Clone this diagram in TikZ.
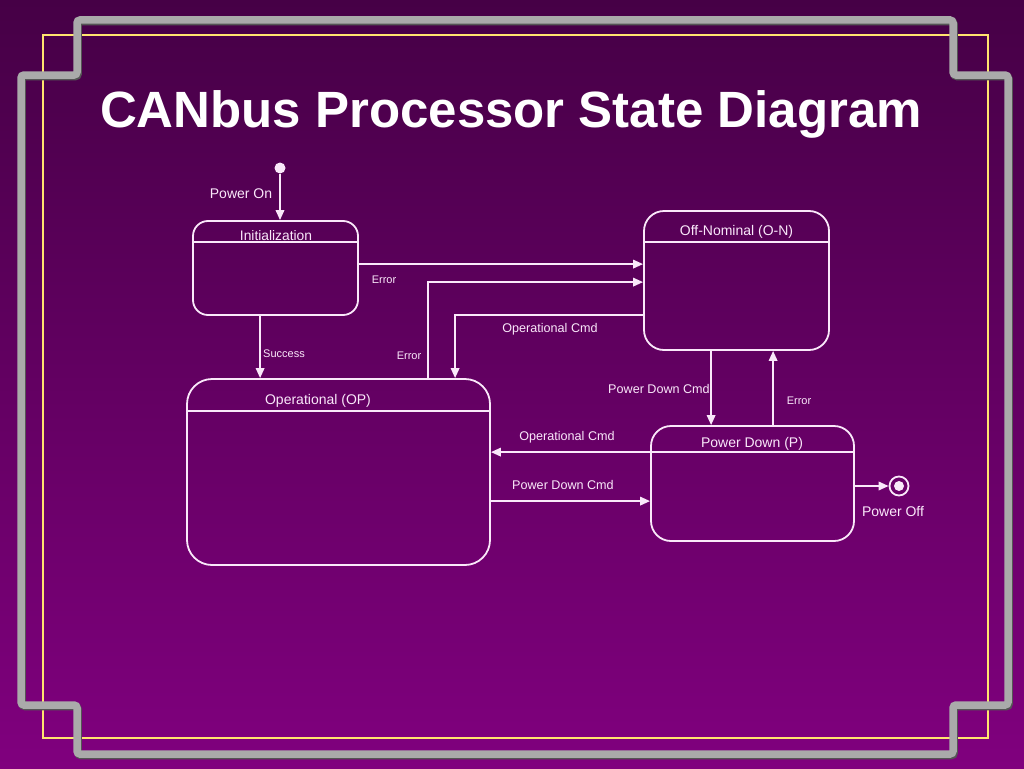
\documentclass[tikz,border=0pt]{standalone}
\usepackage{fontspec}
\setmainfont{Liberation Sans}
\usetikzlibrary{arrows.meta,calc}
\definecolor{bgtop}{RGB}{70,0,70}
\definecolor{bgbot}{RGB}{128,0,126}
\definecolor{ink}{RGB}{250,232,250}
\definecolor{framegray}{RGB}{170,170,170}
\definecolor{frameshadow}{RGB}{85,85,85}
\definecolor{gold}{RGB}{255,228,110}
\begin{document}
\begin{tikzpicture}[x=1pt,y=-1pt,
  statebox/.style={draw=ink, line width=1.8pt, rounded corners=#1, inner sep=0pt},
  conn/.style={draw=ink, line width=1.8pt},
  arr/.style={conn, -{Triangle[length=10pt,width=8.5pt]}},
  lbl/.style={text=ink, inner sep=0pt, anchor=base},
  big/.style={lbl, font=\fontsize{14}{16}\selectfont},
  mid/.style={lbl, font=\fontsize{12.6}{15}\selectfont},
  small/.style={lbl, font=\fontsize{11}{13}\selectfont}]
% background
\shade[top color=bgtop, bottom color=bgbot] (0,0) rectangle (1024,768);
\useasboundingbox (0,0) rectangle (1024,768);
% frame
\draw[gold, line width=2.6pt] (43,35) rectangle (988,738);
\draw[frameshadow, line width=7.5pt, rounded corners=3pt, shift={(1.2,1.6)}]
  (77,20) -- (953,20) -- (953,75) -- (1008,75) -- (1008,705) -- (953,705) -- (953,754)
  -- (77,754) -- (77,705) -- (21,705) -- (21,75) -- (77,75) -- cycle;
\draw[framegray, line width=7.5pt, rounded corners=3pt]
  (77,20) -- (953,20) -- (953,75) -- (1008,75) -- (1008,705) -- (953,705) -- (953,754)
  -- (77,754) -- (77,705) -- (21,705) -- (21,75) -- (77,75) -- cycle;
% title
\node[anchor=base, inner sep=0pt, text=white, font=\bfseries\fontsize{51}{60}\selectfont] (title) at (511,127) {CANbus Processor State Diagram};
% states
\node[statebox=15pt, minimum width=165pt, minimum height=94pt] (init) at (275.5,268) {};
\node[statebox=20pt, minimum width=185pt, minimum height=139pt] (on) at (736.5,280.5) {};
\node[statebox=25pt, minimum width=303pt, minimum height=186pt] (op) at (338.5,472) {};
\node[statebox=20pt, minimum width=203pt, minimum height=115pt] (pd) at (752.5,483.5) {};
% dividers
\draw[conn] ($(init.north west)+(0,22)$) -- ($(init.north east)+(0,22)$);
\draw[conn] ($(on.north west)+(0,32)$) -- ($(on.north east)+(0,32)$);
\draw[conn] ($(op.north west)+(0,33)$) -- ($(op.north east)+(0,33)$);
\draw[conn] ($(pd.north west)+(0,27)$) -- ($(pd.north east)+(0,27)$);
% state titles
\node[lbl, font=\fontsize{13.8}{16}\selectfont] (initt) at (276,240) {Initialization};
\node[big] (ont) at (736.5,235) {Off-Nominal (O-N)};
\node[big] (opt) at (318,404) {Operational (OP)};
\node[big] (pdt) at (752,447) {Power Down (P)};
% pseudo states
\node[circle, fill=ink, minimum size=11pt, inner sep=0pt] (start) at (280,168) {};
\node[circle, draw=ink, line width=1.8pt, minimum size=19pt, inner sep=0pt] (end) at (899,486) {};
\node[circle, fill=ink, minimum size=10pt, inner sep=0pt] (endin) at (899,486) {};
% connectors
\draw[arr] (start) -- (start |- init.north);
\draw[arr] ($(init.north east)+(0,44)$) -- ($(on.north west)+(0,54)$);
\draw[arr] ($(op.north west)+(242,0)$) |- ($(on.north west)+(0,72)$);
\draw[arr] ($(on.north west)+(0,105)$) -| ($(op.north west)+(269,0)$);
\draw[arr] ($(init.south west)+(68,0)$) -- ($(op.north west)+(74,0)$);
\draw[arr] ($(on.south west)+(68,0)$) -- ($(pd.north west)+(61,0)$);
\draw[arr] ($(pd.north west)+(123,0)$) -- ($(on.south west)+(130,0)$);
\draw[arr] ($(pd.north west)+(0,27)$) -- ($(op.north east)+(0,74)$);
\draw[arr] ($(op.north east)+(0,123)$) -- ($(pd.north west)+(0,76)$);
\draw[arr] (pd.east |- end.west) -- (end.west);
% labels
\node[big] (lpon) at (241,198) {Power On};
\node[small] (le1) at (384,283) {Error};
\node[small] (le2) at (409,359) {Error};
\node[mid] (loc1) at (550,332.5) {Operational Cmd};
\node[small] (lsuc) at (284,357) {Success};
\node[mid] (lpd1) at (659,393.5) {Power Down Cmd};
\node[small] (le3) at (799,404) {Error};
\node[mid] (loc2) at (567,440.5) {Operational Cmd};
\node[mid] (lpd2) at (563,489.5) {Power Down Cmd};
\node[big] (lpoff) at (893,516) {Power Off};
\end{tikzpicture}
\end{document}
